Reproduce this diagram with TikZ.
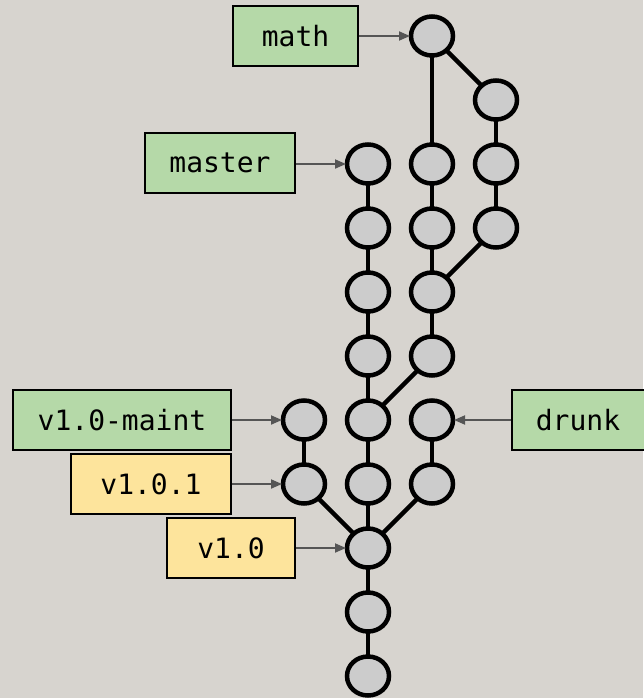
\documentclass[tikz,border=0pt]{standalone}
\usepackage{fontspec}
\setmonofont{DejaVu Sans Mono}
\usetikzlibrary{shapes.geometric,arrows.meta}
\definecolor{bg}{HTML}{D7D4CF}
\definecolor{cfill}{HTML}{CCCCCC}
\definecolor{gbox}{HTML}{B5D9A8}
\definecolor{ybox}{HTML}{FDE49C}
\definecolor{arr}{HTML}{555555}
\tikzset{
  commit/.style={ellipse,draw=black,fill=cfill,line width=4.5pt,minimum width=42pt,minimum height=39pt,inner sep=0pt,outer sep=0pt},
  edge/.style={line width=4.4pt,draw=black},
  lbl/.style={draw=black,line width=1.8pt,font=\ttfamily\fontsize{28}{28}\selectfont,anchor=center,inner sep=0pt},
  branch/.style={lbl,fill=gbox},
  tag/.style={lbl,fill=ybox},
  ptr/.style={draw=arr,line width=1.8pt,-{Triangle[length=11pt,width=9pt]}}
}
\begin{document}
\begin{tikzpicture}[x=1pt,y=-1pt]
\fill[bg] (0,0) rectangle (643,698);
\useasboundingbox (0,0) rectangle (643,698);
% column 368
\node[commit] (m1) at (368,164) {};
\node[commit] (m2) at (368,228) {};
\node[commit] (m3) at (368,292) {};
\node[commit] (m4) at (368,356) {};
\node[commit] (m5) at (368,420) {};
\node[commit] (m6) at (368,484) {};
\node[commit] (m7) at (368,548) {};
\node[commit] (m8) at (368,612) {};
\node[commit] (m9) at (368,676) {};
% column 304
\node[commit] (v1) at (304,420) {};
\node[commit] (v2) at (304,484) {};
% column 432
\node[commit] (a0) at (432,36) {};
\node[commit] (a1) at (432,164) {};
\node[commit] (a2) at (432,228) {};
\node[commit] (a3) at (432,292) {};
\node[commit] (a4) at (432,356) {};
\node[commit] (d1) at (432,420) {};
\node[commit] (d2) at (432,484) {};
% column 496
\node[commit] (b1) at (496,100) {};
\node[commit] (b2) at (496,164) {};
\node[commit] (b3) at (496,228) {};
% edges
\draw[edge] (m1) -- (m2);
\draw[edge] (m2) -- (m3);
\draw[edge] (m3) -- (m4);
\draw[edge] (m4) -- (m5);
\draw[edge] (m5) -- (m6);
\draw[edge] (m6) -- (m7);
\draw[edge] (m7) -- (m8);
\draw[edge] (m8) -- (m9);
\draw[edge] (v1) -- (v2);
\draw[edge] (v2) -- (m7);
\draw[edge] (d1) -- (d2);
\draw[edge] (d2) -- (m7);
\draw[edge] (a0) -- (a1);
\draw[edge] (a0) -- (b1);
\draw[edge] (b1) -- (b2);
\draw[edge] (b2) -- (b3);
\draw[edge] (b3) -- (a3);
\draw[edge] (a1) -- (a2);
\draw[edge] (a2) -- (a3);
\draw[edge] (a3) -- (a4);
\draw[edge] (a4) -- (m5);
% labels
\node[branch,minimum width=125pt,minimum height=60pt] (Lmath) at (295.5,36) {math};
\node[branch,minimum width=150pt,minimum height=60pt] (Lmaster) at (220,163) {master};
\node[branch,minimum width=218pt,minimum height=60pt] (Lmaint) at (122,420) {v1.0-maint};
\node[tag,minimum width=160pt,minimum height=60pt] (Lv101) at (151,484) {v1.0.1};
\node[tag,minimum width=128pt,minimum height=60pt] (Lv10) at (231,548) {v1.0};
\node[branch,minimum width=140pt,minimum height=60pt] (Ldrunk) at (582,420) {\hspace*{-8pt}drunk};
% pointers
\draw[ptr] (Lmath.east |- a0) -- ([xshift=-1pt]a0.west);
\draw[ptr] (Lmaster.east |- m1) -- ([xshift=-1pt]m1.west);
\draw[ptr] (Lmaint.east |- v1) -- ([xshift=-1pt]v1.west);
\draw[ptr] (Lv101.east |- v2) -- ([xshift=-1pt]v2.west);
\draw[ptr] (Lv10.east |- m7) -- ([xshift=-1pt]m7.west);
\draw[ptr] (Ldrunk.west |- d1) -- ([xshift=1pt]d1.east);
\end{tikzpicture}
\end{document}
